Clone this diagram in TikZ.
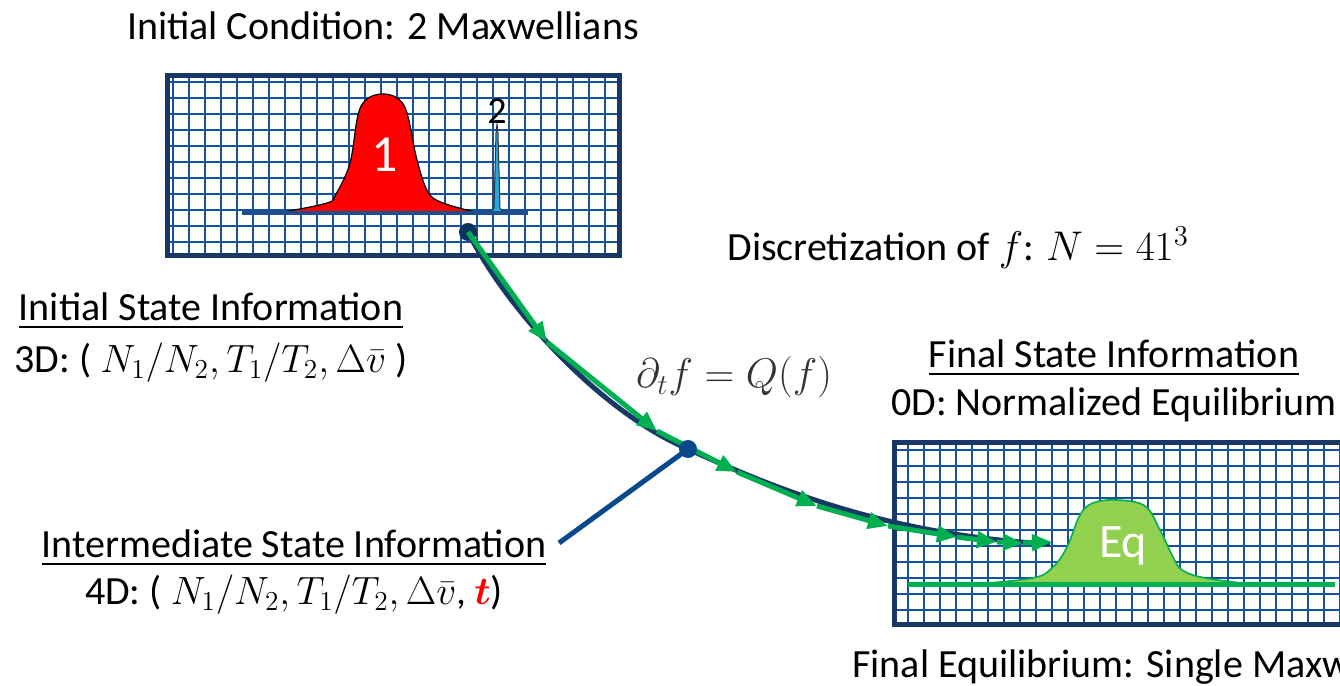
\documentclass[tikz,border=0pt]{standalone}
\usepackage{fontspec}
\setmainfont{Carlito}
\usepackage{amsmath}
\usepackage{bm}
\usepackage{graphicx}
\usepackage{xcolor}
\usepackage{tikz}
\usetikzlibrary{
  arrows.meta,
  positioning
}
\tikzset{
  every node/.style={inner sep=2pt}
}
\definecolor{frameNavy}{RGB}{24, 56, 102}
\definecolor{gridBlue}{RGB}{22, 82, 155}
\definecolor{axisBlue}{RGB}{30, 78, 140}
\definecolor{dotNavy}{RGB}{14, 50, 96}
\definecolor{linkBlue}{RGB}{8, 72, 140}
\definecolor{flowGreen}{RGB}{0, 176, 80}
\definecolor{eqGreen}{RGB}{146, 208, 80}
\definecolor{peakCyan}{RGB}{36, 168, 214}

\newcommand{\mathsmall}[1]{\scalebox{0.95}{#1}}

\begin{document}
\begin{tikzpicture}[
    x=0.5pt, y=0.5pt,
    font=\fontsize{20}{24}\selectfont,
    gridframe/.style={rectangle, draw=frameNavy, line width=2.5pt},
    gridline/.style={draw=gridBlue, line width=1pt},
    statedot/.style={circle, minimum size=9pt, inner sep=0pt},
    trajline/.style={draw=frameNavy, line width=2.5pt},
    linkline/.style={draw=linkBlue, line width=2.5pt},
    flow/.style={-{Triangle[length=10pt, width=8pt]}, draw=flowGreen, line width=2.5pt}
]

    \useasboundingbox (0,0) rectangle (1340,686);
    \clip (0,0) rectangle (1340,686);

    % velocity grids
    \draw[gridline, shift={(173,444)}, step=16] (-3,-11) grid (444,164);
    \draw[gridline, shift={(908,76)}, step=16] (-11,-12) grid (440,165);

    \node[gridframe, minimum width=226pt, minimum height=90pt] (initbox) at (393.5,520.5) {};
    \node[gridframe, minimum width=231.5pt, minimum height=91pt] (finalbox) at (1126,152.5) {};

    % two maxwellians
    \filldraw[fill=red, draw=black, line width=0.6pt] plot[smooth, tension=0.6] coordinates {(283,474) (327,483) (336,492) (350,523) (358,571) (367,587) (382,592) (397,588) (407,573) (417,526) (428,494) (443,483) (475,474)} -- cycle;
    \filldraw[fill=peakCyan, draw=black!80, line width=0.5pt] (490,473) -- (494,478) -- (496,553) -- (497,562) -- (498,553) -- (500,478) -- (504,473) -- cycle;
    \draw[draw=axisBlue, line width=1.75pt] (242,473) -- (528,473);

    \node[text=white, font=\fontsize{26}{30}\selectfont] (peakone) at (385,531) {1};
    \node[font=\fontsize{19}{22}\selectfont] (peaktwo) at (497,575) {2};

    % equilibrium
    \filldraw[fill=eqGreen, draw=flowGreen, line width=0.8pt] plot[smooth, tension=0.6] coordinates {(975,102) (1033,108) (1053,119) (1067,139) (1080,171) (1093,183) (1117,186) (1145,180) (1160,156) (1173,129) (1182,116) (1205,108) (1250,102)} -- cycle;
    \draw[draw=flowGreen, line width=2.5pt] (908,101) -- (1335,101);

    \node[text=white, font=\fontsize{24}{28}\selectfont, anchor=base] (eqlabel) at (1123,128) {Eq};

    % trajectory
    \node[statedot, fill=dotNavy] (initdot) at (468,454) {};
    \coordinate (midpt) at (688,237);
    \coordinate (trajend) at (1050,142);
    \coordinate (linkend) at (559,143);

    \draw[trajline] (initdot.center) .. controls (506,378) and (600,274) .. (midpt) .. controls (790,190) and (900,150) .. (trajend);

    \coordinate (f1) at (547,344);
    \coordinate (f2) at (657,255);
    \coordinate (f3) at (737,214);
    \coordinate (f4) at (817,180);
    \coordinate (f5) at (888,160);
    \coordinate (f6) at (957,149);
    \coordinate (f7) at (997,144);
    \coordinate (f8) at (1023,143);
    \coordinate (f9) at (1052,144);

    \draw[flow] (initdot.center) -- (f1);
    \draw[flow] (f1) -- (f2);
    \draw[flow] (f2) -- (f3);
    \draw[flow] (f3) -- (f4);
    \draw[flow] (f4) -- (f5);
    \draw[flow] (f5) -- (f6);
    \draw[flow] (f6) -- (f7);
    \draw[flow] (f7) -- (f8);
    \draw[flow] (f8) -- (f9);

    \draw[linkline] (linkend) -- (midpt);
    \node[statedot, fill=linkBlue] (middot) at (midpt) {};

    % labels
    \node[anchor=base] (initcond) at (383,646) {Initial Condition: 2 Maxwellians};

    \node[anchor=base] (initstate) at (211,365) {\underline{Initial State Information}};
    \node[anchor=base] (initdims) at ([yshift=-26pt]initstate.base) {3D: ( \mathsmall{$N_1/N_2, T_1/T_2, \Delta\bar{v}$} )};

    \node[anchor=base west] (discret) at (723,425) {Discretization of $f$: $N = 41^3$};
    \node[anchor=base, font=\fontsize{22}{26}\selectfont, text=black!80] (collision) at (734,298) {$\partial_t f = Q(f)$};

    \node[anchor=base] (finalstate) at (1114,318) {\underline{Final State Information}};
    \node[anchor=base] (finaldims) at ([yshift=-24pt]finalstate.base) {0D: Normalized Equilibrium};

    \node[anchor=base] (interstate) at (294,128) {\underline{Intermediate State Information}};
    \node[anchor=base] (interdims) at ([yshift=-23.5pt]interstate.base) {4D: ( \mathsmall{$N_1/N_2, T_1/T_2, \Delta\bar{v}$, \textcolor{red}{$\bm{t}$}})};

    \node[anchor=base west] (finalcond) at (848,8) {Final Equilibrium: Single Maxwellian};

\end{tikzpicture}
\end{document}
